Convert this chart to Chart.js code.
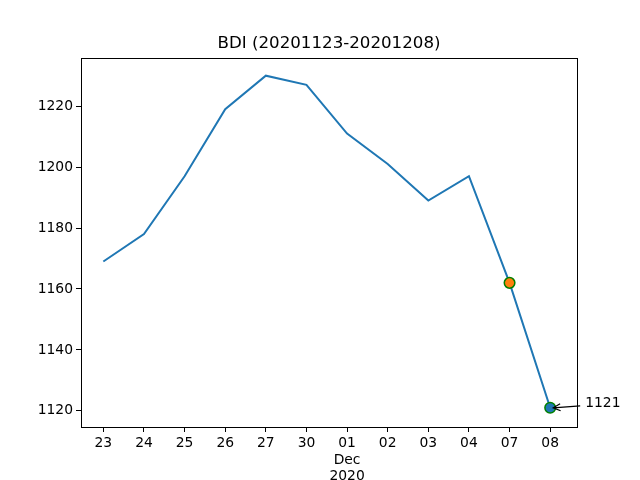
<!DOCTYPE html>
<html>
<head>
<meta charset="utf-8">
<script src="https://cdn.jsdelivr.net/npm/chart.js@4"></script>
<style>
  html, body { margin: 0; padding: 0; background: #fff; }
  #wrap { width: 640px; height: 480px; }
</style>
</head>
<body>
<div id="wrap"><canvas id="chart" width="640" height="480"></canvas></div>
<script>
'use strict';

var titleText = 'BDI (20201123-20201208)';
var dayLabels = ['23', '24', '25', '26', '27', '30', ['01', 'Dec', '2020'], '02', '03', '04', '07', '08'];
var bdiValues = [1169, 1178, 1197, 1219, 1230, 1227, 1211, 1201, 1189, 1197, 1162, 1121];
var markedIndex = [10, 11];
var markedColors = ['#ff7f0e', '#1f77b4'];
var yTicks = [1120, 1140, 1160, 1180, 1200, 1220];
var noteText = '1121';

var lineData = [];
for (var i = 0; i < bdiValues.length; i++) {
  lineData.push({ x: i, y: bdiValues[i] });
}
var markData = [];
for (var j = 0; j < markedIndex.length; j++) {
  markData.push({ x: markedIndex[j], y: bdiValues[markedIndex[j]] });
}

// axis limits
var yMin = 1114.7;
var yMax = 1235.8;
var xMin = -0.55;
var xMax = bdiValues.length - 1 + 0.66;

var tickFont = { family: 'DejaVu Sans', size: 13.89 };

var boxAndNote = {
  id: 'boxAndNote',
  afterDraw: function (chart) {
    var ctx = chart.ctx;
    var a = chart.chartArea;
    ctx.save();
    ctx.strokeStyle = '#000';
    ctx.lineWidth = 1;
    ctx.strokeRect(Math.round(a.left) + 0.5, Math.round(a.top) + 0.5,
      Math.round(a.right - a.left), Math.round(a.bottom - a.top));

    // title centred over the plot area
    ctx.fillStyle = '#000';
    ctx.font = '16.67px "DejaVu Sans"';
    ctx.textAlign = 'center';
    ctx.textBaseline = 'middle';
    ctx.fillText(titleText, (a.left + a.right) / 2, a.top - 14);

    // annotation for the last point
    var last = bdiValues.length - 1;
    var px = chart.scales.x.getPixelForValue(last);
    var py = chart.scales.y.getPixelForValue(bdiValues[last]);
    var tx = px + 35, ty = py - 4;
    var sx = tx - 5, sy = ty + 2;
    var ex = px + 3, ey = py;
    ctx.lineWidth = 1.2;
    ctx.beginPath();
    ctx.moveTo(sx, sy);
    ctx.lineTo(ex, ey);
    var ang = Math.atan2(ey - sy, ex - sx);
    ctx.moveTo(ex - 8 * Math.cos(ang - 0.45), ey - 8 * Math.sin(ang - 0.45));
    ctx.lineTo(ex, ey);
    ctx.lineTo(ex - 8 * Math.cos(ang + 0.45), ey - 8 * Math.sin(ang + 0.45));
    ctx.stroke();
    ctx.font = '13.89px "DejaVu Sans"';
    ctx.textAlign = 'left';
    ctx.fillText(noteText, tx, ty);
    ctx.restore();
  }
};

new Chart(document.getElementById('chart').getContext('2d'), {
  type: 'line',
  data: {
    datasets: [
      {
        label: 'BDI',
        data: lineData,
        borderColor: '#1f77b4',
        borderWidth: 2,
        pointRadius: 0,
        fill: false,
        tension: 0,
        order: 2
      },
      {
        type: 'scatter',
        label: 'marks',
        data: markData,
        backgroundColor: markedColors,
        borderColor: '#008000',
        borderWidth: 1.5,
        pointRadius: 5.3,
        order: 1
      }
    ]
  },
  options: {
    responsive: false,
    animation: false,
    layout: { padding: { left: 0, right: 63, top: 58, bottom: 0 } },
    plugins: {
      legend: { display: false },
      tooltip: { enabled: false },
      title: { display: false }
    },
    scales: {
      x: {
        type: 'linear',
        min: xMin,
        max: xMax,
        afterBuildTicks: function (scale) {
          scale.ticks = dayLabels.map(function (l, k) { return { value: k }; });
        },
        afterFit: function (scale) { scale.height = 53; },
        grid: { drawOnChartArea: false, drawTicks: true, tickLength: 5, color: '#000' },
        border: { display: false },
        ticks: {
          color: '#000',
          font: tickFont,
          padding: 3,
          maxRotation: 0,
          autoSkip: false,
          callback: function (v) { return dayLabels[v]; }
        }
      },
      y: {
        min: yMin,
        max: yMax,
        afterBuildTicks: function (scale) {
          scale.ticks = yTicks.map(function (v) { return { value: v }; });
        },
        afterFit: function (scale) { scale.width = 81; },
        grid: { drawOnChartArea: false, drawTicks: true, tickLength: 5, color: '#000' },
        border: { display: false },
        ticks: {
          color: '#000',
          font: tickFont,
          padding: 3,
          callback: function (v) { return String(v); }
        }
      }
    }
  },
  plugins: [boxAndNote]
});
</script>
</body>
</html>
